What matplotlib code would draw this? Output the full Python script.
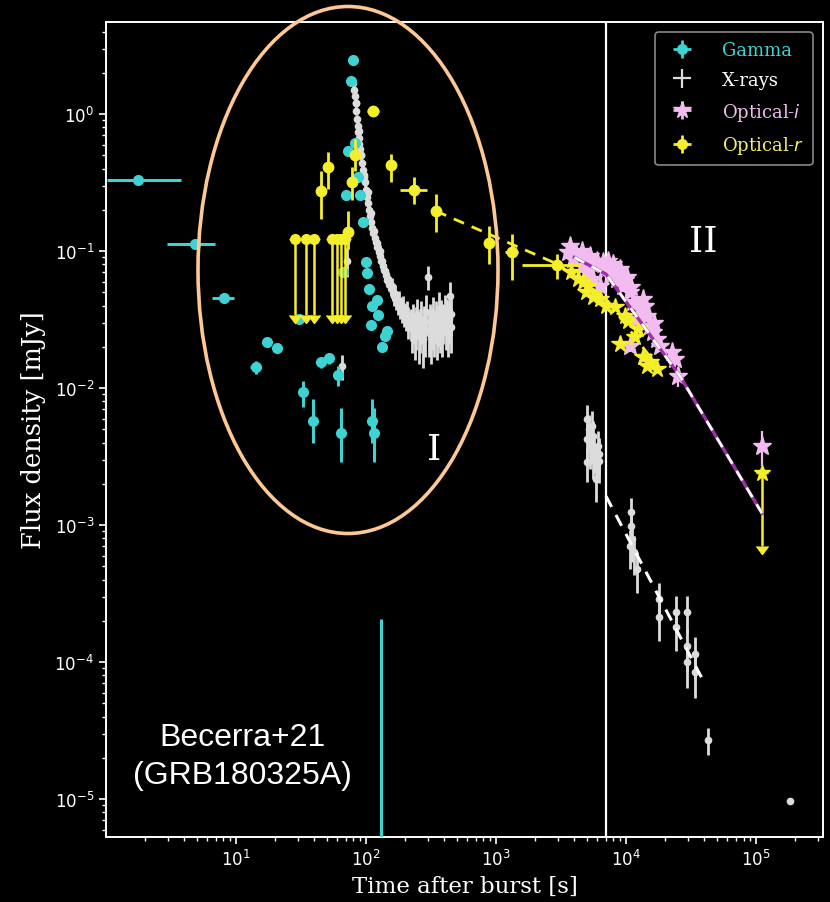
import numpy as np
import matplotlib
matplotlib.use("Agg")
import matplotlib.pyplot as plt
from matplotlib.patches import Ellipse
from matplotlib.ticker import FixedLocator, NullFormatter

# ---------------- data (time after burst [s], flux density [mJy]) ----------------
# Gamma-ray light curve
gam_t = [1.76, 4.84, 8.09, 14.3, 17.3, 20.7, 30.5, 32.8, 39.0, 44.9, 51.9, 61.0, 64.5,
         66.5, 70.2, 72.8, 76.6, 79.4, 82.2, 86.6, 90.0, 94.9, 99.8, 101.8, 105.6,
         109.4, 111.4, 121.7, 123.7, 132.8, 139.8, 145.1, 112.0, 114.5, 130.0]
gam_f = [0.33, 0.112, 0.0454, 0.0142, 0.0217, 0.0196, 0.0319, 0.0093, 0.0058, 0.0155,
         0.0166, 0.0124, 0.0047, 0.070, 0.256, 0.54, 1.74, 2.48, 0.62, 0.35, 0.256,
         0.163, 0.083, 0.069, 0.053, 0.029, 0.040, 0.044, 0.034, 0.020, 0.024, 0.026,
         0.0058, 0.0047, 1.0e-6]
gam_xlo = [0.74, 1.9, 1.5, 1.4, 0.0, 0.0, 0.0, 0.0, 0.0, 0.0, 0.0, 0.0, 0.0, 0.0, 0.0,
           0.0, 0.0, 0.0, 0.0, 0.0, 0.0, 0.0, 0.0, 0.0, 0.0, 0.0, 0.0, 0.0, 0.0, 0.0,
           0.0, 0.0, 0.0, 0.0, 0.0]
gam_xhi = [2.0, 2.1, 1.6, 1.4, 0.0, 0.0, 0.0, 0.0, 0.0, 0.0, 0.0, 0.0, 0.0, 0.0, 0.0,
           0.0, 0.0, 0.0, 0.0, 0.0, 0.0, 0.0, 0.0, 0.0, 0.0, 0.0, 0.0, 0.0, 0.0, 0.0,
           0.0, 0.0, 0.0, 0.0, 0.0]
gam_ylo = [0.0, 0.0, 0.0, 0.0015, 0.0015, 0.0, 0.0, 0.0020, 0.0018, 0.0015, 0.0015,
           0.0020, 0.0018, 0.0, 0.0, 0.0, 0.0, 0.0, 0.0, 0.0, 0.0, 0.0, 0.0, 0.0, 0.0,
           0.0, 0.0, 0.0, 0.0, 0.0, 0.0, 0.0, 0.0018, 0.0018, 0.0]
gam_yhi = [0.0, 0.0, 0.0, 0.0015, 0.0015, 0.0, 0.0, 0.0020, 0.0025, 0.0015, 0.0015,
           0.0020, 0.0025, 0.0, 0.0, 0.0, 0.0, 0.0, 0.0, 0.0, 0.0, 0.0, 0.0, 0.0, 0.0,
           0.0, 0.0, 0.0, 0.0, 0.0, 0.0, 0.0, 0.0025, 0.0025, 2.05e-4]

# X-ray light curve: steep decay after the prompt emission
xr_decay_t = [80, 81, 82, 83, 84, 85, 86, 87, 88, 89, 90, 91.5, 93, 94.5, 96, 98, 100,
              102, 104, 106, 108, 110, 112, 114, 116.5, 119, 122, 125, 128, 131, 134.5,
              138, 142, 146, 150, 155, 160, 165, 171, 177, 183, 190, 197, 204, 212, 220,
              84, 88, 92, 97, 103, 109, 115, 121, 127, 133, 140, 148, 157, 167, 178,
              192, 205, 65.4, 71.0]
xr_decay_f = [1.70, 1.50, 1.35, 1.20, 1.05, 0.92, 0.82, 0.74, 0.67, 0.61, 0.56, 0.50,
              0.44, 0.39, 0.35, 0.32, 0.28, 0.25, 0.225, 0.20, 0.18, 0.163, 0.148, 0.135,
              0.125, 0.116, 0.107, 0.099, 0.092, 0.085, 0.078, 0.073, 0.067, 0.062,
              0.058, 0.054, 0.050, 0.047, 0.044, 0.041, 0.039, 0.037, 0.035, 0.033,
              0.031, 0.030,
              1.20, 0.75, 0.50, 0.36, 0.27, 0.19, 0.14, 0.115, 0.100, 0.085, 0.072,
              0.063, 0.056, 0.049, 0.043, 0.039, 0.035, 0.0145, 0.085]
xr_decay_e = [0.12, 0.10, 0.09, 0.08, 0.07, 0.06, 0.055, 0.05, 0.045, 0.04, 0.04, 0.035,
              0.03, 0.03, 0.025, 0.025, 0.02, 0.02, 0.018, 0.016, 0.015, 0.014, 0.013,
              0.012, 0.011, 0.011, 0.010, 0.010, 0.009, 0.009, 0.008, 0.008, 0.008,
              0.007, 0.007, 0.007, 0.007, 0.007, 0.007, 0.007, 0.007, 0.007, 0.007,
              0.007, 0.008, 0.008,
              0.08, 0.05, 0.035, 0.025, 0.02, 0.015, 0.012, 0.011, 0.010, 0.009, 0.008,
              0.008, 0.008, 0.008, 0.008, 0.008, 0.008, 0.003, 0.02]

# X-ray light curve: plateau
xr_plat_t = [225, 230, 236, 242, 248, 254, 260, 266, 272, 278, 284, 290, 297, 303, 309,
             316, 322, 329, 336, 343, 350, 357, 364, 371, 378, 386, 394, 402, 410, 418,
             426, 434, 442, 448, 450]
xr_plat_f = [0.027, 0.031, 0.025, 0.029, 0.034, 0.024, 0.028, 0.032, 0.023, 0.030,
             0.027, 0.036, 0.065, 0.026, 0.031, 0.024, 0.029, 0.035, 0.027, 0.032,
             0.025, 0.030, 0.038, 0.028, 0.033, 0.026, 0.031, 0.036, 0.029, 0.034,
             0.027, 0.032, 0.047, 0.028, 0.035]
xr_plat_e = [0.009, 0.010, 0.009, 0.010, 0.011, 0.009, 0.010, 0.011, 0.009, 0.010,
             0.010, 0.012, 0.013, 0.009, 0.010, 0.009, 0.010, 0.011, 0.010, 0.011,
             0.009, 0.010, 0.012, 0.010, 0.011, 0.009, 0.010, 0.012, 0.010, 0.011,
             0.010, 0.011, 0.013, 0.010, 0.011]

# X-ray light curve: late observations
xr_late_t = [5012, 5012, 5284, 5470, 5572, 5572, 5875, 6090, 6200, 5012, 5150, 5400,
             5700, 5950, 6150,
             10920, 10920, 11140, 11500, 10800, 12160, 17950, 17950, 24250, 24250,
             29400, 29400, 29400, 33950, 33950, 42700, 183000]
xr_late_f = [5.94e-3, 4.25e-3, 3.59e-3, 5.28e-3, 3.19e-3, 4.47e-3, 2.17e-3, 3.77e-3,
             2.93e-3, 2.88e-3, 5.0e-3, 4.0e-3, 3.4e-3, 3.0e-3, 3.3e-3,
             1.24e-3, 9.8e-4, 7.9e-4, 6.35e-4, 7.0e-4, 4.78e-4, 2.88e-4, 2.13e-4,
             2.32e-4, 1.8e-4, 2.32e-4, 1.31e-4, 1.0e-4, 1.14e-4, 8.45e-5, 2.7e-5, 9.7e-6]
xr_late_e = [1.6e-3, 1.2e-3, 1.0e-3, 1.5e-3, 1.0e-3, 1.3e-3, 7e-4, 1.1e-3, 9e-4, 8e-4,
             1.4e-3, 1.2e-3, 1.0e-3, 9e-4, 1.0e-3,
             3.5e-4, 3.0e-4, 2.5e-4, 2.0e-4, 2.2e-4, 1.6e-4, 9e-5, 7e-5, 7e-5, 6e-5,
             7e-5, 4.5e-5, 3.5e-5, 3.8e-5, 3.0e-5, 6e-6, 0.0]

# Optical r band: early detections
or_t = [45.1, 51.0, 82.2, 78.0, 72.8, 113.0, 155.0, 234.0, 345.0, 883.0, 1327.0, 2945.0]
or_f = [0.274, 0.41, 0.50, 0.318, 0.138, 1.05, 0.425, 0.279, 0.196, 0.114, 0.098, 0.079]
or_xlo = [0, 0, 0, 0, 0, 12, 0, 52, 10, 0, 150, 1360]
or_xhi = [0, 0, 0, 0, 0, 13, 0, 61, 10, 0, 150, 1480]
or_ylo = [0.103, 0.126, 0.116, 0.08, 0.035, 0.0, 0.105, 0.059, 0.058, 0.034, 0.036, 0.0165]
or_yhi = [0.11, 0.118, 0.157, 0.09, 0.058, 0.0, 0.085, 0.067, 0.064, 0.038, 0.035, 0.016]

# Optical r band: early upper limits
orul_t = [28.4, 34.5, 39.8, 54.7, 59.8, 64.2, 68.9]
orul_f = [0.122, 0.122, 0.122, 0.122, 0.122, 0.122, 0.122]
orul_depth = [0.088, 0.088, 0.088, 0.088, 0.088, 0.088, 0.088]

# Optical r band: late photometry
ors_t = [3800, 4276, 4670, 4900, 5100, 5575, 6310, 7000, 8230, 9820, 10350, 8990,
         11720, 12360, 13520, 14520, 15300, 17310]
ors_f = [0.070, 0.0625, 0.060, 0.050, 0.0555, 0.046, 0.0446, 0.040, 0.039, 0.0335,
         0.0308, 0.0210, 0.0236, 0.027, 0.0168, 0.0145, 0.0155, 0.0138]

# Optical r band: last epoch (upper limit)
orl_t = [1.11e5]
orl_f = [0.0024]
orl_depth = [0.0017]

# Optical i band
oi_t = [3705, 4588, 5284, 5984, 3908, 3581, 4670, 6653, 7943, 8995, 7534, 8531, 10180,
        9484, 10740, 11320, 12820, 14520, 12160, 15310, 16140, 17310, 18270, 10740,
        22590, 23820, 25120, 5572, 6310, 5012, 4100, 4900, 5500, 6900, 7200, 8200, 9800,
        11000, 13500, 14000, 16500, 1.11e5]
oi_f = [0.1088, 0.100, 0.092, 0.0845, 0.0874, 0.0984, 0.0778, 0.0831, 0.0804, 0.0739,
        0.0657, 0.0625, 0.0646, 0.0556, 0.0502, 0.0425, 0.0377, 0.0336, 0.0319, 0.0284,
        0.0256, 0.0228, 0.0203, 0.0203, 0.0183, 0.0163, 0.0122, 0.0625, 0.0556, 0.0703,
        0.095, 0.088, 0.080, 0.075, 0.085, 0.070, 0.062, 0.055, 0.045, 0.040, 0.030,
        0.0038]
oi_ferr = [0.008, 0.008, 0.007, 0.007, 0.007, 0.008, 0.006, 0.006, 0.006, 0.006,
           0.005, 0.005, 0.005, 0.005, 0.004, 0.004, 0.004, 0.003, 0.003, 0.003,
           0.003, 0.003, 0.002, 0.002, 0.002, 0.002, 0.002, 0.005, 0.005, 0.006,
           0.007, 0.007, 0.006, 0.006, 0.006, 0.005, 0.005, 0.005, 0.004, 0.004, 0.003,
           0.0011]

# Power-law fits
fit_r_t = [345, 3000, 7000, 16000]
fit_r_f = [0.196, 0.080, 0.045, 0.016]
fit_i_t = [4000, 7000, 26000, 1.11e5]
fit_i_f = [0.090, 0.068, 0.0122, 0.00122]
fit_x_t = [7000, 40550]
fit_x_f = [1.63e-3, 6.9e-5]

t_break = 7000

# axis decades
x_decades = [1e1, 1e2, 1e3, 1e4, 1e5]
y_decades = [1e-5, 1e-4, 1e-3, 1e-2, 1e-1, 1e0]

# ---------------- colours ----------------
C_GAM = "#3fd2d2"
C_XR = "#dcdcdc"
C_OI = "#f2bcf0"
C_OR = "#f5ee2a"
BG = "black"

plt.rcParams["font.family"] = "DejaVu Sans"

fig = plt.figure(figsize=(8.30, 9.03), dpi=100, facecolor=BG)
ax = fig.add_axes([0.1277, 0.072, 0.8639, 0.9025], facecolor=BG)
ax.set_xscale("log")
ax.set_yscale("log")

# gamma rays
ax.errorbar(gam_t, gam_f, xerr=[gam_xlo, gam_xhi], yerr=[gam_ylo, gam_yhi],
            fmt="o", color=C_GAM, ms=7, elinewidth=2.2, capsize=0, zorder=4)

# X-rays
for tt, ff, ee in [(xr_decay_t, xr_decay_f, xr_decay_e),
                   (xr_plat_t, xr_plat_f, xr_plat_e),
                   (xr_late_t, xr_late_f, xr_late_e)]:
    ax.errorbar(tt, ff, yerr=ee, fmt="o", color=C_XR, ms=4.5, elinewidth=2.0,
                capsize=0, zorder=3)

# optical r
ax.errorbar(or_t, or_f, xerr=[or_xlo, or_xhi], yerr=[or_ylo, or_yhi], fmt="o",
            color=C_OR, ms=7.5, elinewidth=2.0, capsize=0, zorder=5)
ax.errorbar(orul_t, orul_f, yerr=orul_depth, uplims=True, fmt="o", color=C_OR, ms=7,
            elinewidth=1.8, capsize=4, zorder=5)
ax.errorbar(orl_t, orl_f, yerr=orl_depth, uplims=True, fmt="*", color=C_OR, ms=12,
            elinewidth=1.8, capsize=4, zorder=6)

# optical i
ax.errorbar(oi_t, oi_f, yerr=oi_ferr, fmt="*", color=C_OI, ms=14, elinewidth=1.6,
            capsize=0, zorder=4)
ax.plot(ors_t, ors_f, "*", color=C_OR, ms=13, zorder=5)

# fitted decays
ax.plot(fit_r_t, fit_r_f, color=C_OR, ls=(0, (4, 3)), lw=2.0, zorder=6)
ax.plot(fit_i_t, fit_i_f, color="#a030a8", lw=2.4, zorder=6)
ax.plot(fit_i_t, fit_i_f, color="white", ls=(0, (4, 3)), lw=2.0, zorder=7)
ax.plot(fit_x_t, fit_x_f, color="white", ls=(0, (4, 3)), lw=2.2, zorder=6)

ax.axvline(t_break, color="white", lw=1.6, zorder=2)

ax.set_xlim(1.0, 3.27e5)
ax.set_ylim(5.3e-6, 4.7)
ax.xaxis.set_major_locator(FixedLocator(x_decades))
ax.yaxis.set_major_locator(FixedLocator(y_decades))
ax.xaxis.set_minor_formatter(NullFormatter())
ax.yaxis.set_minor_formatter(NullFormatter())

for s in ax.spines.values():
    s.set_color("white")
    s.set_linewidth(1.4)
ax.tick_params(which="both", colors="white", labelcolor="white", direction="out")
ax.tick_params(which="major", length=5, width=1.2, labelsize=12)
ax.tick_params(which="minor", length=3, width=1.0)

ax.set_xlabel("Time after burst [s]", family="DejaVu Serif", fontsize=16.5,
              color="white", labelpad=4)
ax.set_ylabel("Flux density [mJy]", family="DejaVu Serif", fontsize=18.5,
              color="white", labelpad=6)

# legend
h_gam_leg = ax.errorbar([], [], xerr=[], yerr=[], fmt="o", color=C_GAM, ms=7,
                        elinewidth=2.0)
h_xr_leg = ax.errorbar([], [], xerr=[], yerr=[], fmt="none", color=C_XR,
                       elinewidth=1.6)
h_oi_leg = ax.errorbar([], [], xerr=[], yerr=[], fmt="*", color=C_OI, ms=13,
                       elinewidth=2.0)
h_or_leg = ax.errorbar([], [], xerr=[], yerr=[], fmt="o", color=C_OR, ms=7,
                       elinewidth=2.0)
leg = ax.legend([h_gam_leg, h_xr_leg, h_oi_leg, h_or_leg],
                ["Gamma", "X-rays", "Optical-$\\it{i}$", "Optical-$\\it{r}$"],
                loc="upper right", prop={"family": "DejaVu Serif", "size": 13},
                facecolor="black", edgecolor="#888888", framealpha=1.0,
                labelcolor=[C_GAM, "white", C_OI, "#f5ee70"],
                borderpad=0.5, handletextpad=1.2, labelspacing=0.65,
                borderaxespad=0.0, bbox_to_anchor=(0.986, 0.9877))
leg.get_frame().set_linewidth(1.2)

# phase labels and source annotation
ax.text(333, 3.6e-3, "I", family="DejaVu Serif", fontsize=26, color="white",
        ha="center", va="center")
ax.text(3.9e4, 0.118, "II", family="DejaVu Serif", fontsize=26, color="white",
        ha="center", va="center")
ax.text(0.19, 0.0994, "Becerra+21\n(GRB180325A)", transform=ax.transAxes,
        family="Liberation Sans", fontsize=23, color="white", ha="center",
        va="center", linespacing=1.35)

# early-phase highlight
fig.patches.append(Ellipse((348 / 830, 1 - 271 / 903), 300 / 830, 527 / 903,
                           transform=fig.transFigure, fill=False,
                           edgecolor="#fdc894", lw=2.6, zorder=10))

fig.savefig("out.png", dpi=100, facecolor=BG)
